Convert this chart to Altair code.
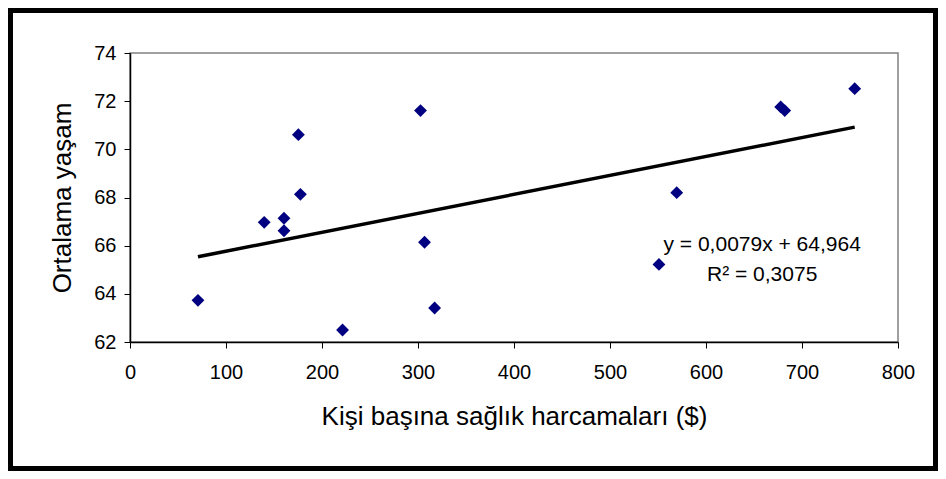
import altair as alt
import pandas as pd

# Data
spending = [70.8, 139.8, 160.4, 160.4, 175.4, 177.5, 221.4, 302.6, 306.8, 317.3,
            551.0, 569.5, 677.8, 682.0, 754.9]
life_exp = [63.73, 66.97, 67.14, 66.62, 70.61, 68.13, 62.50, 71.61, 66.14, 63.41,
            65.22, 68.20, 71.76, 71.61, 72.52]
x_ticks = [0, 100, 200, 300, 400, 500, 600, 700, 800]
y_ticks = [62, 64, 66, 68, 70, 72, 74]
eq_lines = ["y = 0,0079x + 64,964", "R² = 0,3075"]
eq_x = [658.5, 658.5]
eq_y = [66.01, 64.77]

df = pd.DataFrame({"x": spending, "y": life_exp})
df_eq = pd.DataFrame({"x": eq_x, "y": eq_y, "t": eq_lines})

FONT = "Liberation Sans"

xscale = alt.Scale(domain=[0, 800], nice=False, zero=False)
yscale = alt.Scale(domain=[62, 74], nice=False, zero=False)

xaxis = alt.Axis(values=x_ticks, title="Kişi başına sağlık harcamaları ($)",
                 grid=False, labelFlush=False, tickSize=6, labelPadding=14,
                 titlePadding=21)
yaxis = alt.Axis(values=y_ticks, title="Ortalama yaşam", grid=False,
                 labelFlush=False, tickSize=6, labelPadding=8, titlePadding=18)

points = alt.Chart(df).mark_point(
    shape="diamond", filled=True, color="#000080", opacity=1, size=165
).encode(
    x=alt.X("x:Q", scale=xscale, axis=xaxis),
    y=alt.Y("y:Q", scale=yscale, axis=yaxis),
)

trend = alt.Chart(df).transform_regression("x", "y").mark_line(
    color="black", strokeWidth=3.5
).encode(
    x=alt.X("x:Q", scale=xscale),
    y=alt.Y("y:Q", scale=yscale),
)

eq = alt.Chart(df_eq).mark_text(
    font=FONT, fontSize=21, color="black", align="center", baseline="middle"
).encode(
    x=alt.X("x:Q", scale=xscale),
    y=alt.Y("y:Q", scale=yscale),
    text="t:N",
)

border = alt.Chart(pd.DataFrame({"a": [0]})).mark_rect(
    filled=False, stroke="black", strokeWidth=5
).encode(
    x=alt.value(-119.5), x2=alt.value(805.5),
    y=alt.value(-42.5), y2=alt.value(415.5),
)

chart = alt.layer(border, trend, points, eq).properties(
    width=768, height=289,
    padding={"left": 122, "top": 45, "right": 40, "bottom": 129},
    autosize=alt.AutoSizeParams(type="none"),
    background="white",
).configure_view(
    stroke="#808080", strokeWidth=1.5
).configure_axis(
    domainColor="black", domainWidth=1.5, tickColor="black", tickWidth=1,
    labelFont=FONT, labelFontSize=20, labelColor="black",
    titleFont=FONT, titleFontSize=26, titleFontWeight="normal", titleColor="black",
)

chart.save("out.html", embed_options={"renderer": "svg", "actions": False})
